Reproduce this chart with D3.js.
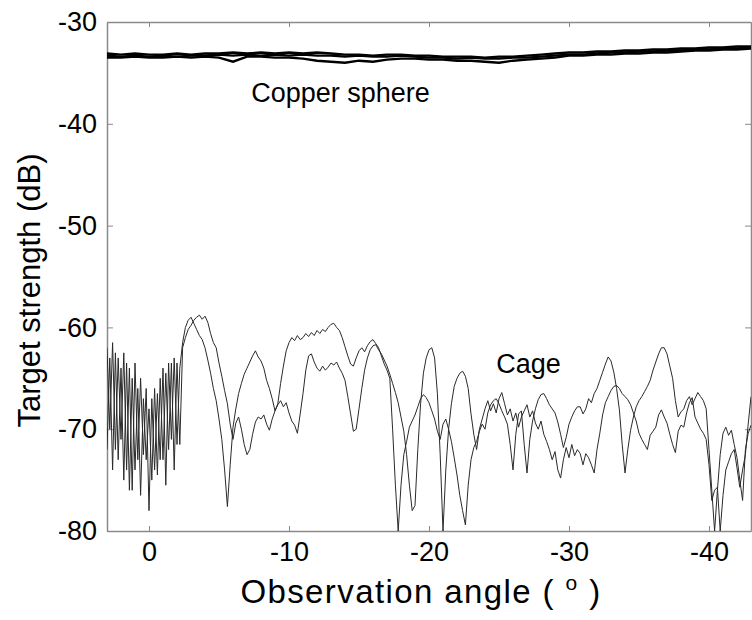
<!DOCTYPE html>
<html>
<head>
<meta charset="utf-8">
<script src="https://cdn.jsdelivr.net/npm/d3@7"></script>
<style>
body { margin: 0; background: #fff; }
text { font-family: "Liberation Sans", Arial, sans-serif; fill: #000; }
</style>
</head>
<body>
<div id="chart"></div>
<script>
// angle grid for the cage curves, 0.2 deg steps from +3 to -43
var angles = d3.range(30, -431, -2).map(function(d) { return d / 10; });

var cageA = [
    -62, -70, -61.5, -72, -63, -71, -62.5, -74, -64, -76,
    -63.5, -73, -65, -72.5, -66, -78, -67, -74, -66.5, -73,
    -64, -75.5, -63.5, -71, -63, -71.5, -64, -61.5, -60, -59.3,
    -59.0, -59.6, -60.2, -60.8, -61.2, -62.0, -63.2, -64.5, -66.0, -67.2,
    -69.0, -71.0, -74.0, -77.6, -73.5, -69.8, -68.0, -66.5, -65.5, -64.6,
    -64.0, -63.4, -62.8, -62.3, -62.9, -63.3, -64.0, -65.2, -66.0, -67.0,
    -68.2, -67.5, -65.5, -63.8, -62.3, -61.5, -61.0, -61.3, -60.8, -61.2,
    -61.0, -60.6, -60.9, -60.5, -60.8, -60.3, -60.6, -60.2, -60.4, -60.0,
    -59.7, -59.6, -60.0, -60.3, -61.0, -61.9, -62.8, -63.6, -63.8, -63.0,
    -62.3, -62.0, -62.4, -61.8, -61.4, -61.2, -61.6, -62.0, -62.8, -63.6,
    -64.2, -65.0, -70.0, -75.5, -80.0, -75.5, -72.5, -71.2, -69.8, -69.2,
    -68.6, -67.8, -67.0, -66.6, -66.9, -67.4, -68.2, -69.0, -70.2, -71.0,
    -69.5, -69.0, -70.0, -71.2, -72.8, -74.5, -76.5, -78.0, -79.4, -75.5,
    -73.0, -71.8, -71.2, -70.2, -69.5, -70.0, -68.4, -67.6, -67.2, -67.0,
    -67.5, -68.2, -68.8, -69.5, -71.5, -74.0, -70.5, -68.5, -68.2, -71.5,
    -74.3, -71.0, -69.2, -68.0, -67.1, -66.6, -66.5, -67.0, -67.6, -68.0,
    -68.4, -69.3, -70.5, -71.8, -70.8, -69.5, -68.8, -68.2, -67.8, -67.8,
    -68.5, -68.0, -67.0, -67.4, -66.5, -66.0, -65.2, -64.4, -63.6, -62.9,
    -63.3, -64.4, -66.0, -68.1, -71.5, -74.3, -72.0, -70.1, -68.8, -67.8,
    -67.2, -66.8, -66.3, -65.8, -65.2, -64.2, -63.4, -62.6, -62.0, -62.0,
    -62.6, -63.8, -65.0, -67.2, -68.8, -68.3, -68.0, -67.2, -66.8, -67.6,
    -67.0, -66.4, -66.8, -67.2, -68.0, -72.0, -76.0, -80.0, -76.0, -72.5,
    -70.4, -69.8, -70.6, -70.1, -71.5, -72.8, -75.0, -77.0, -72.0, -70.4,
    -69.6
];

var cageB = [
    -72, -63, -74, -62.5, -73, -64, -75, -63.5, -76, -65,
    -74, -66, -76.5, -67, -73, -68, -75, -66, -74.5, -65,
    -73, -64.5, -72, -63.5, -74, -63.5, -71.5, -62.0, -61.0, -60.2,
    -59.8, -59.3, -59.0, -58.8, -59.2, -58.9, -59.5, -60.6, -61.5, -62.0,
    -63.5, -64.8, -66.2, -67.5, -69.5, -71.0, -69.4, -68.8, -70.0, -71.5,
    -72.5, -72.0, -70.5, -69.3, -68.8, -69.0, -68.6, -69.5, -70.1, -69.0,
    -68.2, -67.6, -67.2, -67.8, -67.4, -68.4, -69.2, -69.6, -70.4, -68.5,
    -66.5, -64.2, -62.8, -62.6, -63.4, -64.0, -64.3, -63.8, -64.2, -63.9,
    -63.5, -63.7, -63.4, -64.0, -64.5, -65.2, -66.8, -68.5, -70.2, -70.0,
    -68.0, -66.0, -64.2, -63.0, -62.2, -61.8, -61.7, -62.2, -62.6, -63.2,
    -63.8, -64.6, -65.5, -66.4, -67.4, -68.8, -70.2, -72.5, -75.5, -78.0,
    -77.5, -72.0, -67.5, -64.5, -63.0, -62.2, -62.0, -63.0, -66.5, -72.5,
    -80.0, -74.0, -70.0, -67.5, -65.8, -65.0, -64.5, -64.3, -64.8, -66.0,
    -68.5, -70.5, -72.0, -70.0, -69.0, -68.0, -67.2, -68.2, -67.5, -68.4,
    -67.0, -66.4, -67.5, -68.6, -68.0, -69.2, -68.4, -69.8, -68.8, -68.2,
    -67.6, -68.8, -68.2, -69.4, -70.0, -69.2, -70.5, -71.2, -72.0, -73.0,
    -72.2, -74.0, -74.8, -73.0, -71.8, -72.8, -71.5, -72.6, -72.0, -72.4,
    -73.5, -72.4, -72.8, -73.5, -74.3, -72.0, -70.4, -68.6, -67.4, -66.8,
    -66.2, -65.8, -65.7, -66.0, -66.5, -66.8, -67.1, -67.6, -68.4, -69.2,
    -70.4, -71.0, -71.5, -72.0, -70.6, -70.2, -69.8, -68.6, -68.1, -68.8,
    -69.4, -70.5, -71.5, -72.3, -70.2, -69.6, -69.8, -68.4, -67.4, -66.9,
    -68.8, -69.4, -70.0, -70.4, -71.0, -73.5, -77.0, -76.0, -75.7, -80.0,
    -76.5, -74.0, -73.2, -72.4, -72.0, -73.8, -75.7, -74.0, -72.5, -69.5,
    -66.8
];

// copper sphere, 1 deg steps from +3 to -43
var sphereAngles = d3.range(3, -44, -1);

var sphere1 = [
    -33.3, -33.4, -33.3, -33.4, -33.3, -33.4, -33.3, -33.3, -33.2, -33.3,
    -33.2, -33.3, -33.2, -33.3, -33.2, -33.3, -33.3, -33.4, -33.3, -33.4,
    -33.4, -33.3, -33.4, -33.5, -33.5, -33.6, -33.5, -33.6, -33.6, -33.5,
    -33.5, -33.4, -33.3, -33.2, -33.2, -33.1, -33.0, -33.0, -32.9, -32.9,
    -32.8, -32.8, -32.7, -32.7, -32.6, -32.6, -32.5
];
var sphere2 = [
    -33.1, -33.2, -33.1, -33.2, -33.2, -33.1, -33.2, -33.1, -33.1, -33.0,
    -33.1, -33.0, -33.1, -33.0, -33.1, -33.0, -33.1, -33.2, -33.2, -33.3,
    -33.2, -33.2, -33.3, -33.3, -33.4, -33.4, -33.4, -33.5, -33.4, -33.4,
    -33.3, -33.2, -33.1, -33.0, -33.0, -32.9, -32.9, -32.8, -32.8, -32.7,
    -32.7, -32.6, -32.6, -32.5, -32.5, -32.4, -32.4
];
var sphere3 = [
    -33.5, -33.5, -33.4, -33.5, -33.5, -33.4, -33.5, -33.4, -33.5, -33.9,
    -33.4, -33.4, -33.5, -33.5, -33.6, -33.8, -33.9, -34.0, -33.8, -33.9,
    -33.7, -33.6, -33.6, -33.7, -33.7, -33.8, -33.8, -33.9, -34.0, -33.8,
    -33.7, -33.6, -33.5, -33.3, -33.3, -33.2, -33.2, -33.1, -33.1, -33.0,
    -33.0, -32.9, -32.8, -32.8, -32.7, -32.7, -32.6
];

var xTicks = [0, -10, -20, -30, -40];
var yTicks = [-30, -40, -50, -60, -70, -80];

var margin = { top: 22, right: 1, bottom: 89, left: 107 },
    width = 752 - margin.left - margin.right,
    height = 620 - margin.top - margin.bottom;

var svg = d3.select('#chart')
    .append('svg')
    .attr('width', 752)
    .attr('height', 620)
    .append('g')
    .attr('transform', 'translate(' + margin.left + ',' + margin.top + ')');

var x = d3.scaleLinear().domain([3, -43]).range([0, width]);
var y = d3.scaleLinear().domain([-80, -30]).range([height, 0]);

svg.append('clipPath')
    .attr('id', 'plotclip')
    .append('rect')
    .attr('width', width)
    .attr('height', height);

var axisColor = '#8a8a8a';
// plain hyphen for negative labels, like the original
var fmt = function(d) { return String(d); };

// axes, MATLAB style ticks pointing inward
var xAxis = svg.append('g')
    .attr('transform', 'translate(0,' + height + ')')
    .call(d3.axisBottom(x).tickValues(xTicks).tickSizeInner(-5).tickSizeOuter(0).tickPadding(11).tickFormat(fmt));
var xTop = svg.append('g')
    .call(d3.axisTop(x).tickValues(xTicks).tickSizeInner(-5).tickSizeOuter(0).tickFormat(''));
var yAxis = svg.append('g')
    .call(d3.axisLeft(y).tickValues(yTicks).tickSizeInner(-6).tickSizeOuter(0).tickPadding(10).tickFormat(fmt));
var yRight = svg.append('g')
    .attr('transform', 'translate(' + width + ',0)')
    .call(d3.axisRight(y).tickValues(yTicks).tickSizeInner(-6).tickSizeOuter(0).tickFormat(''));

[xAxis, xTop, yAxis, yRight].forEach(function(a) {
    a.select('.domain').attr('stroke', axisColor).attr('stroke-width', 1.5);
    a.selectAll('.tick line').attr('stroke', axisColor);
    a.selectAll('.tick text')
        .style('font-size', '27px')
        .attr('fill', '#000');
});

var lineCage = d3.line()
    .x(function(d, i) { return x(angles[i]); })
    .y(function(d) { return y(d); });

var lineSphere = d3.line()
    .x(function(d, i) { return x(sphereAngles[i]); })
    .y(function(d) { return y(d); });

var plot = svg.append('g').attr('clip-path', 'url(#plotclip)');

[cageA, cageB].forEach(function(s) {
    plot.append('path')
        .datum(s)
        .attr('d', lineCage)
        .attr('fill', 'none')
        .attr('stroke', '#2a2a2a')
        .attr('stroke-width', 1);
});

[sphere1, sphere2, sphere3].forEach(function(s) {
    plot.append('path')
        .datum(s)
        .attr('d', lineSphere)
        .attr('fill', 'none')
        .attr('stroke', '#000')
        .attr('stroke-width', 2.4);
});

// labels in the plot
svg.append('text')
    .attr('x', x(-7.3))
    .attr('y', y(-37.9))
    .style('font-size', '27px')
    .text('Copper sphere');

svg.append('text')
    .attr('x', x(-24.8))
    .attr('y', y(-64.5))
    .style('font-size', '27px')
    .text('Cage');

// axis titles
var xTitle = svg.append('text')
    .attr('x', width / 2 - 8)
    .attr('y', height + 72)
    .attr('text-anchor', 'middle')
    .style('font-size', '33px')
    .style('letter-spacing', '1.4px')
    .text('Observation angle ( ');
xTitle.append('tspan')
    .attr('dy', -13)
    .style('font-size', '21px')
    .text('o');
xTitle.append('tspan')
    .attr('dy', 13)
    .text(' )');

svg.append('text')
    .attr('transform', 'translate(' + (40 - margin.left) + ',' + (height / 2 + 14) + ') rotate(-90)')
    .attr('text-anchor', 'middle')
    .style('font-size', '31px')
    .text('Target strength (dB)');
</script>
</body>
</html>
